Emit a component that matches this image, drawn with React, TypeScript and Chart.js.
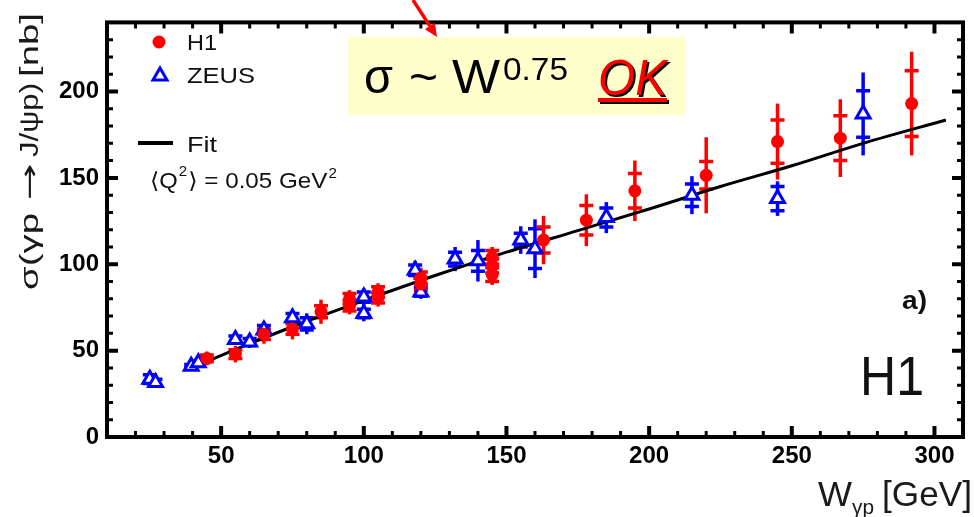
import React, { useEffect, useRef } from "react";
import { Chart, registerables } from "chart.js";

Chart.register(...registerables);

// ---------------- data ----------------
// H1 points: W [GeV], sigma [nb], statistical error, total error
const h1W = [45, 55, 65, 75, 85, 95, 95, 105, 105, 120, 120, 145, 145, 145, 163, 178, 195, 220, 245, 267, 292];
const h1Sigma = [45.5, 48, 59.5, 62.5, 72.5, 76, 80, 80.5, 84, 92, 88.5, 104, 99, 94, 114, 125.5, 142.5, 151.5, 171, 173, 193];
const h1Stat = [2, 2.5, 3, 3, 3.5, 3, 3, 3, 3, 3.5, 3.5, 4, 4, 4, 7.5, 8.5, 10, 8, 12.5, 13, 19];
const h1Tot = [4, 4.8, 5.5, 6, 7, 5, 5, 5, 5, 6, 6, 6, 6, 6, 14, 15, 17.5, 22, 22, 22.5, 30];

// ZEUS points
const zeusW = [25, 27, 39.5, 42, 55, 60, 65, 75, 80, 100, 100, 118, 120, 132, 140, 155, 160, 185, 215, 245, 275];
const zeusSigma = [33.5, 31.5, 41, 43, 56.5, 55, 62, 69, 65.5, 81, 71.5, 96.5, 84, 103, 102, 114, 109, 127, 140, 138, 187];
const zeusStat = [2.5, 2, 1, 1, 2, 2, 2.5, 2.5, 3.5, 3, 2.5, 3, 2.5, 4, 6, 4, 11.5, 5.5, 6.5, 7, 13.5];
const zeusTot = [4.5, 3, 1.5, 1.5, 3, 3.5, 4.5, 4, 6, 5, 4.5, 5.5, 4, 7, 12, 8, 17, 9, 11, 10, 24];

// Fit curve (sigma ~ W^0.75)
const fitW = [39, 60, 80, 100, 125, 150, 175, 200, 225, 250, 275, 304];
const fitSigma = [39.5, 54, 67, 79, 93.5, 107, 119.5, 132, 145, 157, 170, 183.5];

// axes
const xMin = 10;
const xMax = 310;
const yMin = 0;
const yMax = 240;
const xTickValues = [50, 100, 150, 200, 250, 300];
const yTickValues = [0, 50, 100, 150, 200];
const minorStep = 10;
const majorStep = 50;

// texts
const yTitleParts = ["σ(γp", "→", "J/ψp)", "[nb]"];
const xTitleMain = "W";
const xTitleSub = "γp";
const xTitleUnit = "[GeV]";
const legendH1 = "H1";
const legendZeus = "ZEUS";
const legendFit = "Fit";
const panelLabel = "a)";
const expLabel = "H1";

const RED = "#ff0000";
const BLUE = "#0000ff";
const FONT = '"Liberation Sans", Arial, "DejaVu Sans", sans-serif';

function drawText(
  ctx: CanvasRenderingContext2D,
  s: string,
  x: number,
  y: number,
  font: string,
  color: string,
  width?: number,
  sxDefault = 1,
  baseline: CanvasTextBaseline = "alphabetic"
): number {
  ctx.save();
  ctx.font = font;
  ctx.fillStyle = color;
  ctx.textAlign = "left";
  ctx.textBaseline = baseline;
  const w = ctx.measureText(s).width;
  const sx = width ? width / w : sxDefault;
  ctx.translate(x, y);
  ctx.scale(sx, 1);
  ctx.fillText(s, 0, 0);
  ctx.restore();
  return w * sx;
}

const errorBarPlugin = {
  id: "errorBars",
  beforeDatasetsDraw(chart: any) {
    const ctx: CanvasRenderingContext2D = chart.ctx;
    const xs = chart.scales.x;
    const ys = chart.scales.y;
    const drawSet = (W: number[], S: number[], st: number[], tot: number[], color: string) => {
      ctx.save();
      ctx.strokeStyle = color;
      ctx.lineWidth = 3.5;
      ctx.lineCap = "butt";
      for (let i = 0; i < W.length; i++) {
        const px = xs.getPixelForValue(W[i]);
        const yTop = ys.getPixelForValue(S[i] + tot[i]);
        const yBot = ys.getPixelForValue(S[i] - tot[i]);
        ctx.beginPath();
        ctx.moveTo(px, yTop);
        ctx.lineTo(px, yBot);
        ctx.stroke();
        const c1 = ys.getPixelForValue(S[i] + st[i]);
        const c2 = ys.getPixelForValue(S[i] - st[i]);
        ctx.beginPath();
        ctx.moveTo(px - 7, c1);
        ctx.lineTo(px + 7, c1);
        ctx.moveTo(px - 7, c2);
        ctx.lineTo(px + 7, c2);
        ctx.stroke();
      }
      ctx.restore();
    };
    drawSet(zeusW, zeusSigma, zeusStat, zeusTot, BLUE);
    drawSet(h1W, h1Sigma, h1Stat, h1Tot, RED);
  },
};

const framePlugin = {
  id: "frameTicks",
  afterDatasetsDraw(chart: any) {
    const ctx: CanvasRenderingContext2D = chart.ctx;
    const { left, right, top, bottom } = chart.chartArea;
    const xs = chart.scales.x;
    const ys = chart.scales.y;
    ctx.save();
    ctx.strokeStyle = "#000";
    ctx.lineWidth = 4;
    ctx.strokeRect(left, top, right - left, bottom - top);
    for (let v = Math.ceil(xMin / minorStep) * minorStep; v < xMax; v += minorStep) {
      if (v <= xMin) continue;
      const px = xs.getPixelForValue(v);
      const major = v % majorStep === 0;
      const len = major ? 11 : 6;
      ctx.lineWidth = major ? 4 : 3;
      ctx.beginPath();
      ctx.moveTo(px, bottom);
      ctx.lineTo(px, bottom - len);
      ctx.moveTo(px, top);
      ctx.lineTo(px, top + len);
      ctx.stroke();
    }
    for (let v = yMin + minorStep; v < yMax; v += minorStep) {
      const py = ys.getPixelForValue(v);
      const major = v % majorStep === 0;
      const len = major ? 11 : 6;
      ctx.lineWidth = major ? 4 : 3;
      ctx.beginPath();
      ctx.moveTo(left, py);
      ctx.lineTo(left + len, py);
      ctx.moveTo(right, py);
      ctx.lineTo(right - len, py);
      ctx.stroke();
    }
    ctx.restore();
  },
};

const annotationPlugin = {
  id: "annotations",
  afterDraw(chart: any) {
    const ctx: CanvasRenderingContext2D = chart.ctx;
    ctx.save();

    // y-axis title (rotated), drawn piecewise along its length
    ctx.save();
    ctx.translate(30, 290);
    ctx.rotate(-Math.PI / 2);
    const yPos = [0, 90, 133, 213];
    const yWid = [77, 37, 74, 64];
    yTitleParts.forEach((p, i) => {
      const f = i === 1 ? `26px "DejaVu Sans", sans-serif` : `26px ${FONT}`;
      drawText(ctx, p, yPos[i], 1, f, "#1a1a1a", yWid[i], 1, "middle");
    });
    ctx.restore();

    // x-axis title
    drawText(ctx, xTitleMain, 818, 506, `35px ${FONT}`, "#1a1a1a", 34);
    drawText(ctx, xTitleSub, 852, 514, `20px ${FONT}`, "#1a1a1a", 22);
    drawText(ctx, xTitleUnit, 882, 506, `35px ${FONT}`, "#1a1a1a", 90);

    // legend
    ctx.fillStyle = RED;
    ctx.beginPath();
    ctx.arc(159, 42, 6.5, 0, Math.PI * 2);
    ctx.fill();
    drawText(ctx, legendH1, 187, 50, `22px ${FONT}`, "#111", 30);

    ctx.strokeStyle = BLUE;
    ctx.lineWidth = 3;
    ctx.beginPath();
    ctx.moveTo(160, 68);
    ctx.lineTo(167, 80);
    ctx.lineTo(153, 80);
    ctx.closePath();
    ctx.stroke();
    drawText(ctx, legendZeus, 187, 83, `22px ${FONT}`, "#111", 68);

    ctx.strokeStyle = "#000";
    ctx.lineWidth = 4;
    ctx.beginPath();
    ctx.moveTo(138, 143);
    ctx.lineTo(173, 143);
    ctx.stroke();
    drawText(ctx, legendFit, 187, 152, `22px ${FONT}`, "#111", 30);

    // <Q^2> = 0.05 GeV^2
    let qx = 150;
    const qf = `22px ${FONT}`;
    const qs = `14px ${FONT}`;
    qx += drawText(ctx, "⟨Q", qx, 188, qf, "#111", undefined, 1.08);
    qx += 1;
    qx += drawText(ctx, "2", qx, 176, qs, "#111", undefined, 1.08);
    qx += 1;
    qx += drawText(ctx, "⟩ = 0.05 GeV", qx, 188, qf, "#111", undefined, 1.1);
    drawText(ctx, "2", qx + 1, 178, qs, "#111", undefined, 1.08);

    // panel labels
    drawText(ctx, panelLabel, 902, 309, `bold 26px ${FONT}`, "#111", 25);
    drawText(ctx, expLabel, 860, 395, `55px ${FONT}`, "#111", 64);

    // yellow box
    ctx.fillStyle = "#ffffcc";
    ctx.fillRect(348, 37, 338, 78);
    drawText(ctx, "σ", 364, 93, `48px ${FONT}`, "#000", 29);
    drawText(ctx, "~", 409, 93, `48px ${FONT}`, "#000", 29);
    drawText(ctx, "W", 452, 93, `48px ${FONT}`, "#000", 48);
    drawText(ctx, "0.75", 503, 80, `31px ${FONT}`, "#000", 65);
    // OK with shadow
    drawText(ctx, "OK", 600, 97, `italic 50px ${FONT}`, "#000", 69);
    drawText(ctx, "OK", 598, 95, `italic 50px ${FONT}`, RED, 69);
    ctx.fillStyle = "#000";
    ctx.fillRect(600, 100, 69, 4);
    ctx.fillStyle = RED;
    ctx.fillRect(598, 98, 69, 4);

    // red arrow
    const sx0 = 413, sy0 = 0, tx = 437, ty = 37;
    const dx = tx - sx0, dy = ty - sy0;
    const L = Math.hypot(dx, dy);
    const ux = dx / L, uy = dy / L;
    const hl = 13, hw = 6;
    const bx = tx - ux * hl, by = ty - uy * hl;
    ctx.strokeStyle = RED;
    ctx.lineWidth = 3.5;
    ctx.beginPath();
    ctx.moveTo(sx0, sy0);
    ctx.lineTo(bx, by);
    ctx.stroke();
    ctx.fillStyle = RED;
    ctx.beginPath();
    ctx.moveTo(tx, ty);
    ctx.lineTo(bx - uy * hw, by + ux * hw);
    ctx.lineTo(bx + uy * hw, by - ux * hw);
    ctx.closePath();
    ctx.fill();

    ctx.restore();
  },
};

export default function App() {
  const canvasRef = useRef<HTMLCanvasElement | null>(null);

  useEffect(() => {
    const canvas = canvasRef.current;
    if (!canvas) return;
    const tickFont = { family: FONT, size: 24, weight: "bold" as const };
    const chart = new Chart(canvas, {
      type: "scatter",
      data: {
        datasets: [
          {
            label: "H1",
            data: h1W.map((w, i) => ({ x: w, y: h1Sigma[i] })),
            pointStyle: "circle",
            pointRadius: 6.5,
            pointBackgroundColor: RED,
            pointBorderColor: RED,
            pointBorderWidth: 0,
            order: 0,
          },
          {
            label: "ZEUS",
            data: zeusW.map((w, i) => ({ x: w, y: zeusSigma[i] })),
            pointStyle: "triangle",
            pointRadius: 8,
            pointBackgroundColor: "#ffffff",
            pointBorderColor: BLUE,
            pointBorderWidth: 3,
            order: 1,
          },
          {
            type: "line",
            label: "Fit",
            data: fitW.map((w, i) => ({ x: w, y: fitSigma[i] })),
            borderColor: "#000",
            borderWidth: 3,
            pointRadius: 0,
            showLine: true,
            fill: false,
            cubicInterpolationMode: "monotone",
            order: 2,
          } as any,
        ],
      },
      options: {
        responsive: false,
        animation: false,
        devicePixelRatio: 1,
        layout: { padding: { left: 0, top: 10, right: 7, bottom: 0 } },
        plugins: { legend: { display: false }, tooltip: { enabled: false } },
        scales: {
          x: {
            type: "linear",
            min: xMin,
            max: xMax,
            grid: { display: false, drawTicks: false },
            border: { display: false },
            ticks: { font: tickFont, color: "#000", padding: 5, autoSkip: false, maxRotation: 0 },
            afterBuildTicks: (s: any) => {
              s.ticks = xTickValues.map((v) => ({ value: v }));
            },
            afterFit: (s: any) => {
              s.height = 80;
            },
          },
          y: {
            type: "linear",
            min: yMin,
            max: yMax,
            grid: { display: false, drawTicks: false },
            border: { display: false },
            ticks: { font: tickFont, color: "#000", padding: 8, autoSkip: false },
            afterBuildTicks: (s: any) => {
              s.ticks = yTickValues.map((v) => ({ value: v }));
            },
            afterFit: (s: any) => {
              s.width = 107;
            },
          },
        },
      },
      plugins: [errorBarPlugin, framePlugin, annotationPlugin],
    });
    return () => chart.destroy();
  }, []);

  return (
    <div style={{ position: "absolute", left: 0, top: 0, width: 974, height: 517, background: "#fff" }}>
      <canvas ref={canvasRef} width={974} height={517} style={{ width: 974, height: 517, display: "block" }} />
    </div>
  );
}
